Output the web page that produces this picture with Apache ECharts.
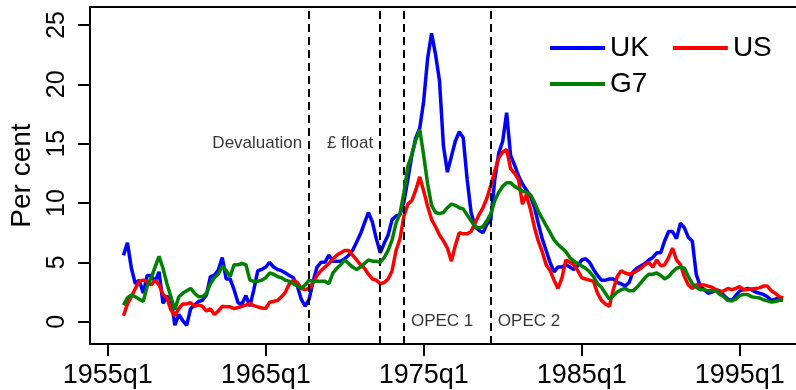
<!DOCTYPE html>
<html><head><meta charset="utf-8">
<script src="https://cdn.jsdelivr.net/npm/echarts@6/dist/echarts.min.js"></script>
<style>html,body{margin:0;padding:0;background:#fff}#c{width:796px;height:390px}</style>
</head><body><div id="c"></div>
<script>
// Quarterly inflation, per cent, first observation 1956q1
const startYear = 1956;
const ukInflation = [
  5.6, 6.65, 4.5, 3.2, 3.5, 2.4, 3.9, 3.9,
  3.4, 4.2, 1.55, 2.1, 2.0, -0.3, 0.6, 0.1,
  -0.3, 1.1, 1.4, 1.7, 1.8, 2.25, 3.8, 3.9,
  4.35, 5.4, 3.6, 3.6, 2.7, 1.6, 1.5, 2.2,
  1.3, 2.7, 4.3, 4.4, 4.6, 5.0, 4.6, 4.4,
  4.3, 4.1, 3.9, 3.7, 3.0, 1.9, 1.3, 1.9,
  3.4, 4.6, 5.0, 5.0, 5.6, 5.1, 5.1, 5.1,
  5.3, 5.6, 6.0, 6.7, 7.4, 8.3, 9.2, 8.4,
  7.0, 5.8, 6.6, 7.3, 8.6, 8.9, 9.0, 10.1,
  12.0, 14.0, 15.5, 16.3, 18.6, 22.2, 24.3, 22.5,
  20.3, 14.8, 12.6, 13.9, 15.2, 16.0, 15.5, 12.0,
  9.2, 8.0, 7.7, 7.5, 8.2, 8.6, 12.0, 14.2,
  15.2, 17.6, 14.0, 13.2, 12.3, 11.6, 11.1, 10.6,
  9.7, 8.3, 7.0, 6.0, 5.0, 4.2, 4.6, 4.6,
  4.8, 4.6, 4.4, 4.7, 5.2, 5.3, 5.0, 4.4,
  3.9, 3.5, 3.5, 3.6, 3.6, 3.3, 3.2, 3.0,
  3.3, 4.2, 4.5, 4.7, 4.9, 5.2, 5.4, 5.8,
  5.8, 6.8, 7.6, 7.6, 7.0, 8.3, 7.9, 7.1,
  6.8, 4.0, 3.0, 2.7, 2.4, 2.5, 2.7, 2.6,
  2.2, 1.9, 1.8, 2.2, 2.6, 2.7, 2.8, 2.7,
  2.5, 2.4, 2.3, 2.1, 1.8, 1.9, 2.0, 2.0
];
const usInflation = [
  0.5, 1.5, 2.1, 2.8, 3.4, 3.5, 3.4, 3.1,
  3.5, 3.1, 2.3, 2.0, 1.0, 0.5, 1.1, 1.5,
  1.5, 1.6, 1.3, 1.4, 1.3, 0.9, 1.1, 0.6,
  0.9, 1.3, 1.25, 1.25, 1.1, 1.2, 1.3, 1.4,
  1.55, 1.35, 1.25, 1.15, 1.1, 1.65, 1.7, 1.8,
  2.1, 2.5, 3.2, 3.5, 3.3, 2.8, 2.7, 2.8,
  3.3, 3.9, 4.3, 4.6, 4.9, 5.3, 5.6, 5.8,
  6.0, 6.0, 5.6, 5.2, 4.8, 4.5, 4.0, 3.6,
  3.5, 3.2, 3.3, 3.6, 4.3, 6.0, 7.0, 8.9,
  9.9, 10.2, 11.1, 12.2, 11.0, 9.7, 8.6, 8.0,
  7.3, 6.8, 6.2, 5.1, 6.4, 7.5, 7.4, 7.4,
  7.6, 8.3, 9.0, 9.6, 10.4, 11.5, 12.7, 13.8,
  14.3, 14.5, 12.9, 12.5, 12.0, 9.9, 10.7, 9.5,
  8.0, 6.8, 5.9, 4.8, 4.3, 3.5, 2.8, 3.7,
  5.2, 5.0, 4.8, 4.3, 3.7, 3.6, 3.5, 3.4,
  2.4, 1.8, 1.5, 1.3, 2.7, 3.8, 4.3, 4.1,
  4.0, 4.1, 4.3, 4.5, 4.8, 5.0, 4.6, 5.2,
  4.7, 4.8, 5.4, 6.2, 5.2, 4.8, 3.8, 3.1,
  2.8, 3.1, 3.1, 3.1, 3.0, 2.9, 2.7, 2.5,
  2.6, 2.8, 2.7, 2.8, 2.95, 2.7, 2.7, 2.75,
  2.8, 2.85, 3.0, 3.0, 2.6, 2.4, 2.1, 2.0
];
const g7Inflation = [
  1.4, 2.0, 2.25, 2.1, 1.9, 1.7, 3.0, 3.7,
  4.6, 5.5, 4.5, 3.2, 2.1, 1.0, 2.1, 2.4,
  2.6, 2.8, 2.4, 2.1, 2.1, 2.4, 3.2, 3.7,
  4.0, 4.7, 4.3, 3.8, 4.8, 4.8, 4.9, 4.8,
  3.5, 3.4, 3.4, 3.5, 3.7, 4.1, 4.0, 3.8,
  3.7, 3.5, 3.4, 3.2, 3.0, 2.8, 3.1, 3.5,
  3.4, 3.4, 3.4, 3.4, 3.2, 4.1, 4.5, 4.8,
  5.2, 4.9, 4.6, 4.4, 4.6, 4.9, 5.2, 5.1,
  5.1, 5.0, 5.4, 6.0, 6.9, 8.3, 9.1, 10.9,
  13.1, 14.1, 15.3, 16.2, 14.0, 11.6, 9.8, 9.2,
  9.1, 9.2, 9.6, 9.9, 9.8, 9.6, 9.5, 9.0,
  8.5, 8.0, 7.9, 8.0, 8.5, 9.1, 10.2, 10.9,
  11.4, 11.7, 11.7, 11.4, 11.2, 11.0, 10.9, 10.7,
  10.1, 9.3, 8.7, 8.1, 7.5, 6.9, 6.5, 6.2,
  5.9, 5.4, 5.1, 4.9, 4.7, 4.5, 4.2, 3.8,
  3.2, 2.9, 2.4, 1.9, 2.2, 2.5, 2.7, 2.8,
  2.6, 2.6, 2.9, 3.3, 3.7, 4.0, 4.0, 4.1,
  3.9, 3.6, 3.8, 4.2, 4.5, 4.6, 4.5, 3.8,
  3.2, 2.9, 2.7, 2.7, 2.6, 2.6, 2.6, 2.3,
  2.1, 1.8, 1.75, 1.9, 2.2, 2.3, 2.3, 2.1,
  2.05, 2.0, 1.85, 1.75, 1.65, 1.7, 1.8, 1.8
];
const seriesNames = ['UK', 'US', 'G7'];
const seriesColors = ['#0000FF', '#FF0000', '#008000'];
const xTickYears = [1955, 1965, 1975, 1985, 1995];   // shown as "YYYYq1"
const yTickValues = [0, 5, 10, 15, 20, 25];
const eventNames = ['Devaluation', '£ float', 'OPEC 1', 'OPEC 2'];
const eventDates = [1967.75, 1972.25, 1973.75, 1979.25]; // 1967q4, 1972q2, 1973q4, 1979q2
const eventLabelLevel = [15, 15, 0, 0];
const eventLabelSide = ['left', 'left', 'right', 'right'];

const FONT = '"Liberation Sans", Arial, Helvetica, sans-serif';
const toPairs = arr => arr.map((v, i) => [startYear + i / 4, v]);
const allData = [ukInflation, usInflation, g7Inflation];

const chart = echarts.init(document.getElementById('c'), null, {renderer: 'canvas'});
const lineSeries = seriesNames.map((name, i) => ({
  name: name,
  type: 'line',
  data: toPairs(allData[i]),
  showSymbol: false,
  symbol: 'none',
  smooth: false,
  z: 3 + i,
  lineStyle: {color: seriesColors[i], width: 3.5},
  itemStyle: {color: seriesColors[i]}
}));

const eventSeries = {
  type: 'scatter',
  name: 'events',
  symbolSize: 0,
  silent: true,
  z: 2,
  data: eventDates.map((d, i) => ({
    value: [d, eventLabelLevel[i]],
    label: {show: true, position: eventLabelSide[i], formatter: eventNames[i]}
  })),
  label: {fontSize: 17, fontFamily: FONT, color: '#000', distance: 7},
  markLine: {
    silent: true,
    symbol: 'none',
    label: {show: false},
    lineStyle: {color: '#000', type: [8, 5], width: 2},
    data: eventDates.map(d => ({xAxis: d}))
  }
};

chart.setOption({
  animation: false,
  backgroundColor: '#fff',
  grid: {left: 90, top: 7, right: -2, bottom: 46, containLabel: false, outerBoundsMode: 'none',
         show: true, borderColor: '#000', borderWidth: 2, backgroundColor: 'transparent'},
  legend: [
    {data: ['UK', 'US'], left: 545, top: 29, icon: 'rect', itemWidth: 55, itemHeight: 4, itemGap: 24,
     textStyle: {fontSize: 28, fontFamily: FONT, color: '#000'}},
    {data: ['G7'], left: 545, top: 65, icon: 'rect', itemWidth: 55, itemHeight: 4,
     textStyle: {fontSize: 28, fontFamily: FONT, color: '#000'}}
  ],
  xAxis: {
    type: 'value',
    min: 1953.88, max: 1998.69,
    axisLine: {show: true, onZero: false, lineStyle: {color: '#000', width: 2}},
    splitLine: {show: false},
    axisTick: {show: true, inside: false, customValues: xTickYears, length: 12, lineStyle: {color: '#000', width: 2}},
    axisLabel: {customValues: xTickYears, formatter: v => v + 'q1', fontSize: 27, fontFamily: FONT, color: '#000', margin: 18}
  },
  yAxis: {
    type: 'value',
    min: -1.879, max: 26.51,
    name: 'Per cent',
    nameLocation: 'middle',
    nameRotate: 90,
    nameGap: 54,
    nameTextStyle: {fontSize: 28, fontFamily: FONT, color: '#000'},
    axisLine: {show: true, onZero: false, lineStyle: {color: '#000', width: 2}},
    splitLine: {show: false},
    axisTick: {show: true, inside: false, customValues: yTickValues, length: 12, lineStyle: {color: '#000', width: 2}},
    axisLabel: {customValues: yTickValues, rotate: 90, fontSize: 25, fontFamily: FONT, color: '#000', margin: 20}
  },
  series: [eventSeries].concat(lineSeries)
});
</script>
</body></html>
